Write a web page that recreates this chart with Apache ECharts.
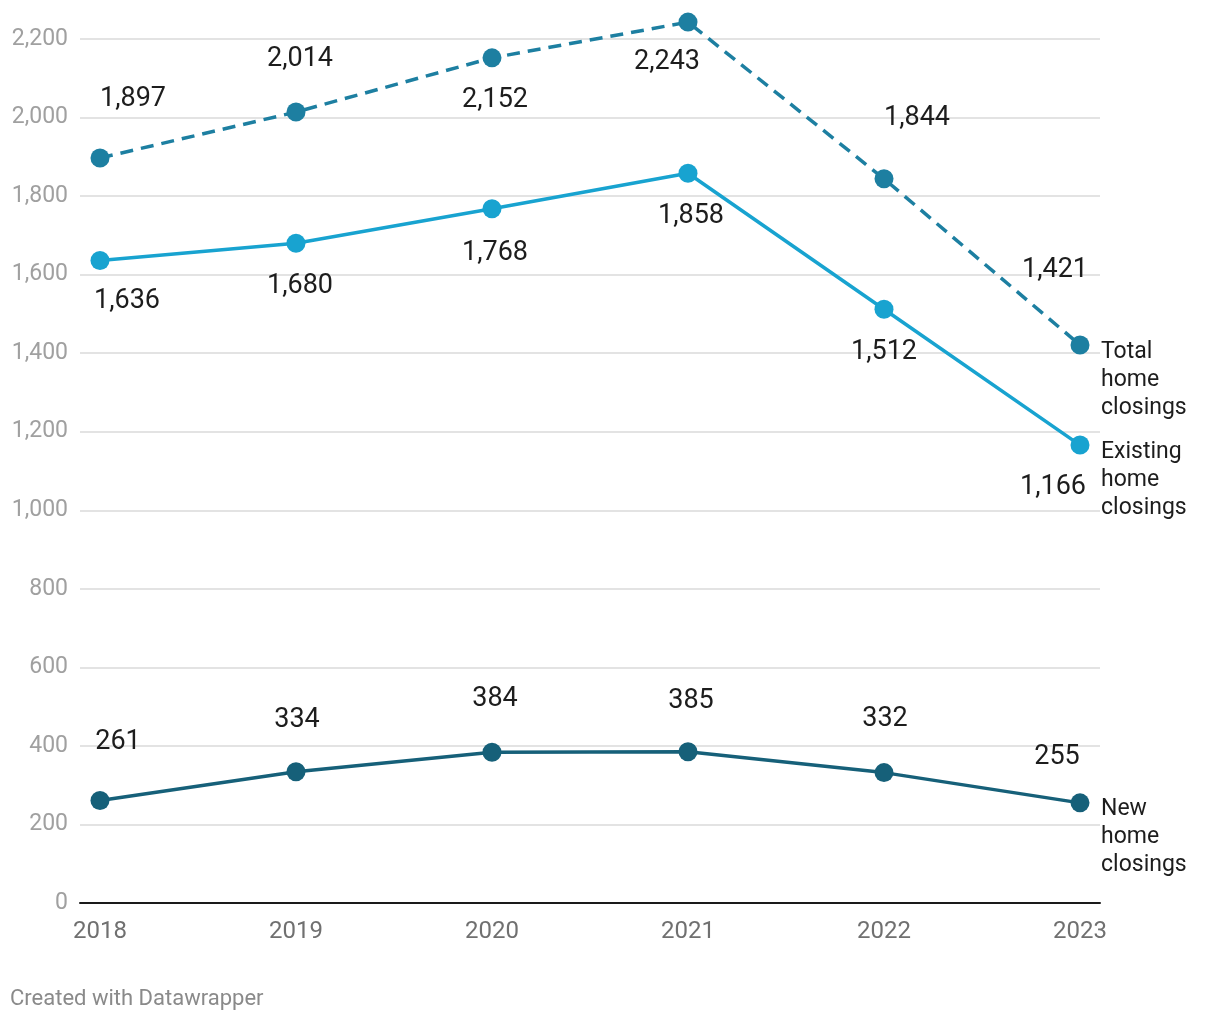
<!DOCTYPE html>
<html><head><meta charset="utf-8">
<script src="https://cdn.jsdelivr.net/npm/echarts@6/dist/echarts.min.js"></script>
<style>html,body{margin:0;padding:0;background:#fff}#c{width:1220px;height:1020px}</style>
</head><body><div id="c"></div>
<script>
const years = [2018, 2019, 2020, 2021, 2022, 2023];
const totalClosings = [1897, 2014, 2152, 2243, 1844, 1421];
const existingClosings = [1636, 1680, 1768, 1858, 1512, 1166];
const newClosings = [261, 334, 384, 385, 332, 255];
const yTicks = [0, 200, 400, 600, 800, 1000, 1200, 1400, 1600, 1800, 2000, 2200];
const seriesNames = ['Total home closings', 'Existing home closings', 'New home closings'];

// label offsets (style only)
const totalOff = [[33,-59],[4,-53],[3,42],[-21,40],[33,-61],[-25,-75]];
const existOff = [[27,41],[4,43],[3,45],[3,43],[0,43],[-27,42]];
const newOff = [[18,-58],[1,-52],[3,-53],[3,-51],[1,-53],[-23,-46]];

const FONT = 'Roboto, "Noto Sans", sans-serif';
const fmt = v => v.toLocaleString('en-US');

function mk(name, vals, offs, color, dashed, endText, endOff) {
  return {
    name, type: 'line', clip: false, z: 3,
    data: years.map((y, i) => ({
      value: [y, vals[i]],
      label: { offset: offs[i] }
    })),
    symbol: 'circle', symbolSize: 19,
    itemStyle: { color },
    lineStyle: { color, width: 3.5, type: dashed ? [13, 8] : 'solid' },
    label: {
      show: true, position: 'inside', fontFamily: FONT, fontSize: 27, color: '#1d1d1d',
      formatter: p => fmt(p.value[1])
    },
    endLabel: {
      show: true, formatter: endText, fontFamily: FONT, fontSize: 23, color: '#1d1d1d',
      lineHeight: 28, align: 'left', verticalAlign: 'middle', distance: 0, offset: endOff
    },
    emphasis: { disabled: true }
  };
}

const chart = echarts.init(document.getElementById('c'));
chart.setOption({
  animation: false,
  grid: { left: 80, right: 120, top: 39, bottom: 117, containLabel: false },
  xAxis: {
    type: 'value', min: 2017.898, max: 2023.102,
    axisLine: { show: true, onZero: false, lineStyle: { color: '#1a1a1a', width: 2 } },
    axisTick: { show: false },
    splitLine: { show: false },
    axisLabel: {
      customValues: years, fontFamily: FONT, fontSize: 24, color: '#707070', margin: 17,
      formatter: v => String(v)
    }
  },
  yAxis: {
    type: 'value', min: 0, max: 2200, interval: 200,
    axisLine: { show: false }, axisTick: { show: false },
    splitLine: { show: true, lineStyle: { color: '#e3e3e3', width: 2 } },
    axisLabel: { customValues: yTicks, fontFamily: FONT, fontSize: 23, color: '#a0a0a0', margin: 12, formatter: v => fmt(v) }
  },
  series: [
    {
      type: 'line', data: [], z: 1, silent: true,
      markLine: {
        silent: true, symbol: 'none', label: { show: false },
        lineStyle: { color: '#e3e3e3', width: 2, type: 'solid' },
        data: years.map(y => [{ coord: [y, 0] }, { coord: [y, 2243] }])
      }
    },
    mk(seriesNames[0], totalClosings, totalOff, '#1d7fa1', true, 'Total\nhome\nclosings', [21, 35]),
    mk(seriesNames[1], existingClosings, existOff, '#18a3d0', false, 'Existing\nhome\nclosings', [21, 35]),
    mk(seriesNames[2], newClosings, newOff, '#166079', false, 'New\nhome\nclosings', [21, 34])
  ],
  graphic: [{
    type: 'text', left: 10, top: 988,
    style: { text: 'Created with Datawrapper', fontFamily: FONT, fontSize: 22, fill: '#8a8a8a' }
  }]
});
</script></body></html>
